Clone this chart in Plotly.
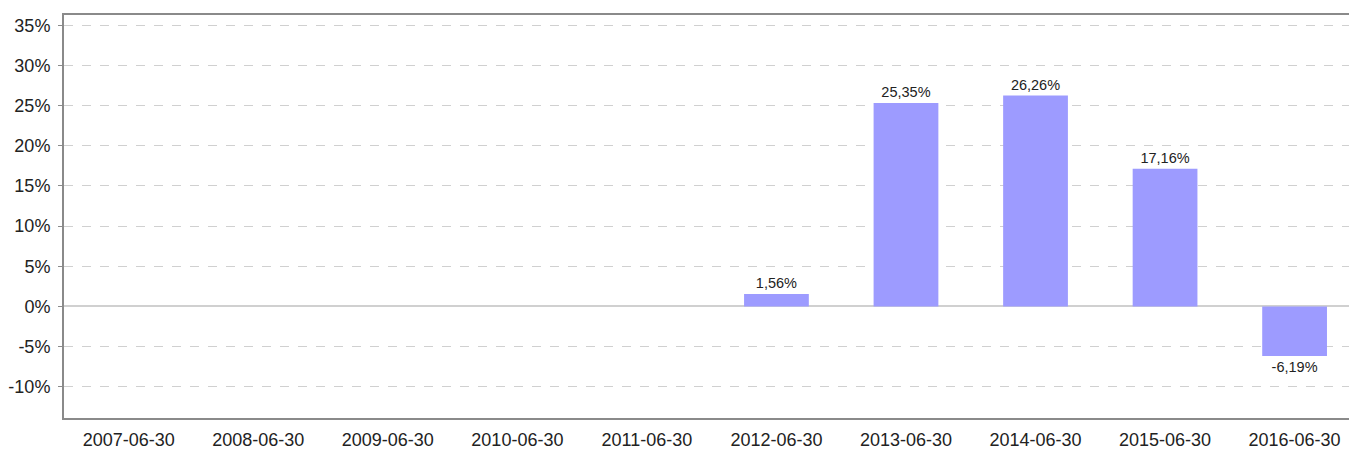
import plotly.graph_objects as go

categories = ["2007-06-30", "2008-06-30", "2009-06-30", "2010-06-30", "2011-06-30",
              "2012-06-30", "2013-06-30", "2014-06-30", "2015-06-30", "2016-06-30"]
values = [None, None, None, None, None, 1.56, 25.35, 26.26, 17.16, -6.19]
y_ticks = [-10, -5, 0, 5, 10, 15, 20, 25, 30, 35]

labels = ["" if v is None else f"{v:.2f}".replace(".", ",") + "%" for v in values]

fig = go.Figure()
fig.add_trace(go.Bar(
    x=categories, y=values, text=labels, textposition="outside",
    textfont=dict(size=14.5, color="#222"), cliponaxis=False,
    marker=dict(color="#9d9bff", line=dict(width=0)), width=0.5,
    hoverinfo="x+y",
))

fig.update_layout(
    width=1349, height=450, autosize=False,
    margin=dict(l=64, r=0, t=15, b=29),
    paper_bgcolor="white", plot_bgcolor="white",
    font=dict(family="Liberation Sans, Arial, sans-serif", size=18, color="#222"),
    showlegend=False,
    xaxis=dict(
        type="category", range=[-0.5, 9.42],
        showline=True, linecolor="#8a8a8a", linewidth=2, mirror=True,
        showgrid=False, ticks="", tickfont=dict(size=18), ticklabelstandoff=4,
    ),
    yaxis=dict(
        range=[-13.9, 36.3], tickvals=y_ticks, ticktext=[f"{t}%" for t in y_ticks],
        showline=True, linecolor="#8a8a8a", linewidth=2,
        ticks="outside", ticklen=4, tickcolor="#8a8a8a", tickwidth=1,
        showgrid=True, gridcolor="#d0d0d0", griddash="dash", gridwidth=1,
        zeroline=True, zerolinecolor="#d0d0d0", zerolinewidth=2,
        tickfont=dict(size=18), ticklabelstandoff=4,
    ),
)

fig.write_html("out.html", config={"displayModeBar": False},
               post_script="document.body.style.margin='0';document.body.style.overflow='hidden';")
